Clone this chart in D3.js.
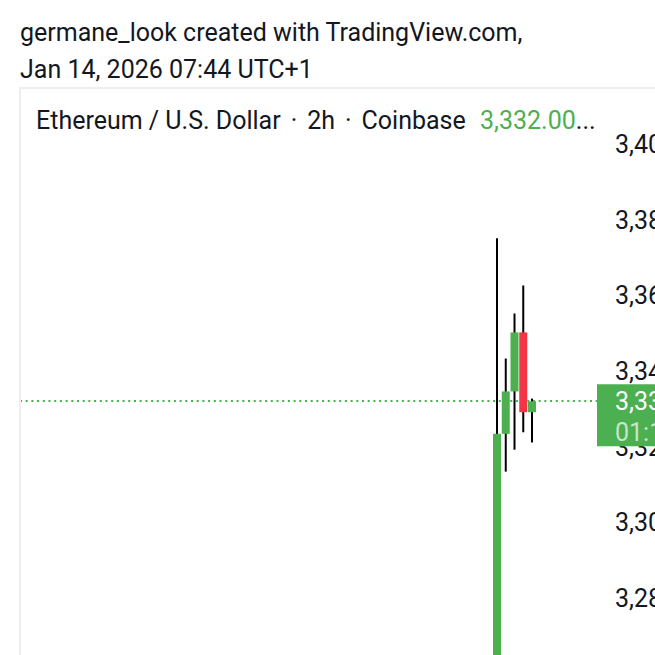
<!DOCTYPE html>
<html>
<head>
<meta charset="utf-8">
<script src="https://cdn.jsdelivr.net/npm/d3@7"></script>
<style>
  html, body { margin: 0; padding: 0; background: #ffffff; overflow: hidden; }
  svg { display: block; }
  text { font-family: Roboto, "Noto Sans", sans-serif; }
</style>
</head>
<body>
<svg id="chart" width="655" height="655"></svg>
<script>
// ---- data (2h candles, times in UTC) ----
const times  = ["2026-01-13T22:00", "2026-01-14T00:00", "2026-01-14T02:00", "2026-01-14T04:00", "2026-01-14T06:00"];
const opens  = [3236.0, 3323.4, 3334.6, 3350.2, 3329.1];
const highs  = [3375.1, 3343.3, 3355.2, 3362.6, 3332.7];
const lows   = [3228.0, 3313.4, 3319.2, 3323.8, 3321.1];
const closes = [3323.4, 3334.6, 3350.2, 3329.1, 3332.0];
const priceTicks = [3280, 3300, 3320, 3340, 3360, 3380, 3400];
const lastPrice = 3332.00;
const lastPriceLabel = "3,332.00";
const countdownLabel = "01:15:48";
const titleLines = ["germane_look created with TradingView.com,", "Jan 14, 2026 07:44 UTC+1"];
const symbolParts = ["Ethereum / U.S. Dollar", "·", "2h", "·", "Coinbase"];

const parse = d3.utcParse("%Y-%m-%dT%H:%M");
const candles = times.map((t, i) => ({
  date: parse(t), open: opens[i], high: highs[i], low: lows[i], close: closes[i]
}));

// ---- layout ----
const W = 655, H = 655;
const pane = { left: 20, top: 88, right: 598, bottom: 655 };
const barMs = 2 * 3600 * 1000;
const barsLeft = 54.5, barsRight = 7.54;

const svg = d3.select("#chart");
const fmt = d3.format(",");

const x = d3.scaleUtc()
  .domain([new Date(+candles[0].date - barsLeft * barMs), new Date(+candles[candles.length - 1].date + barsRight * barMs)])
  .range([pane.left, pane.right]);
const y = d3.scaleLinear().domain([3280, 3400]).range([598, 144]);

const green = "#4caf50", red = "#f23645";

// title
svg.append("g").selectAll("text").data(titleLines).join("text")
  .attr("x", 20).attr("y", (d, i) => 41 + i * 37)
  .attr("font-size", 25).attr("fill", "#131722").text(d => d);

// frame
svg.append("rect")
  .attr("x", pane.left).attr("y", pane.top)
  .attr("width", W - pane.left + 10).attr("height", H - pane.top + 10)
  .attr("fill", "none").attr("stroke", "#eeeeee").attr("stroke-width", 2);

// clip for the pane
svg.append("clipPath").attr("id", "paneClip").append("rect")
  .attr("x", pane.left + 1).attr("y", pane.top + 1)
  .attr("width", pane.right - pane.left - 1).attr("height", pane.bottom - pane.top);

const plot = svg.append("g").attr("clip-path", "url(#paneClip)");

// last price dotted line
plot.append("line")
  .attr("x1", pane.left).attr("x2", pane.right)
  .attr("y1", Math.round(y(lastPrice))).attr("y2", Math.round(y(lastPrice)))
  .attr("stroke", green).attr("stroke-width", 2).attr("stroke-dasharray", "2 3.7");

const bodyW = 8;

// wicks
plot.append("g").selectAll("line").data(candles).join("line")
  .attr("x1", d => x(d.date)).attr("x2", d => x(d.date))
  .attr("y1", d => y(d.high)).attr("y2", d => y(d.low))
  .attr("stroke", "#000000").attr("stroke-width", 2);

// bodies
plot.append("g").selectAll("rect").data(candles).join("rect")
  .attr("x", d => x(d.date) - bodyW / 2)
  .attr("y", d => y(Math.max(d.open, d.close)))
  .attr("width", bodyW)
  .attr("height", d => Math.max(1, Math.abs(y(d.open) - y(d.close))))
  .attr("fill", d => d.close >= d.open ? green : red);

// legend header
const header = svg.append("text").attr("x", 36).attr("y", 129).attr("font-size", 25).attr("fill", "#131722");
symbolParts.forEach((p, i) => {
  header.append("tspan").attr("dx", i === 0 ? 0 : 10).text(p);
});
header.append("tspan").attr("x", 480).attr("fill", green).text(lastPriceLabel);
header.append("tspan").text("...");

// price axis labels
svg.append("g").selectAll("text").data(priceTicks).join("text")
  .attr("x", 615).attr("y", d => y(d)).attr("dy", "0.36em")
  .attr("font-size", 25).attr("fill", "#131722").text(d => fmt(d));

// last price label box
const py = y(lastPrice);
svg.append("rect").attr("x", 597).attr("y", py - 17).attr("width", 70).attr("height", 62).attr("fill", green);
svg.append("text").attr("x", 615).attr("y", py).attr("dy", "0.36em").attr("font-size", 25)
  .attr("fill", "#ffffff").text(lastPriceLabel);
svg.append("text").attr("x", 615).attr("y", py + 31).attr("dy", "0.36em").attr("font-size", 25)
  .attr("fill", "#ffffff").attr("fill-opacity", 0.7).text(countdownLabel);
</script>
</body>
</html>
